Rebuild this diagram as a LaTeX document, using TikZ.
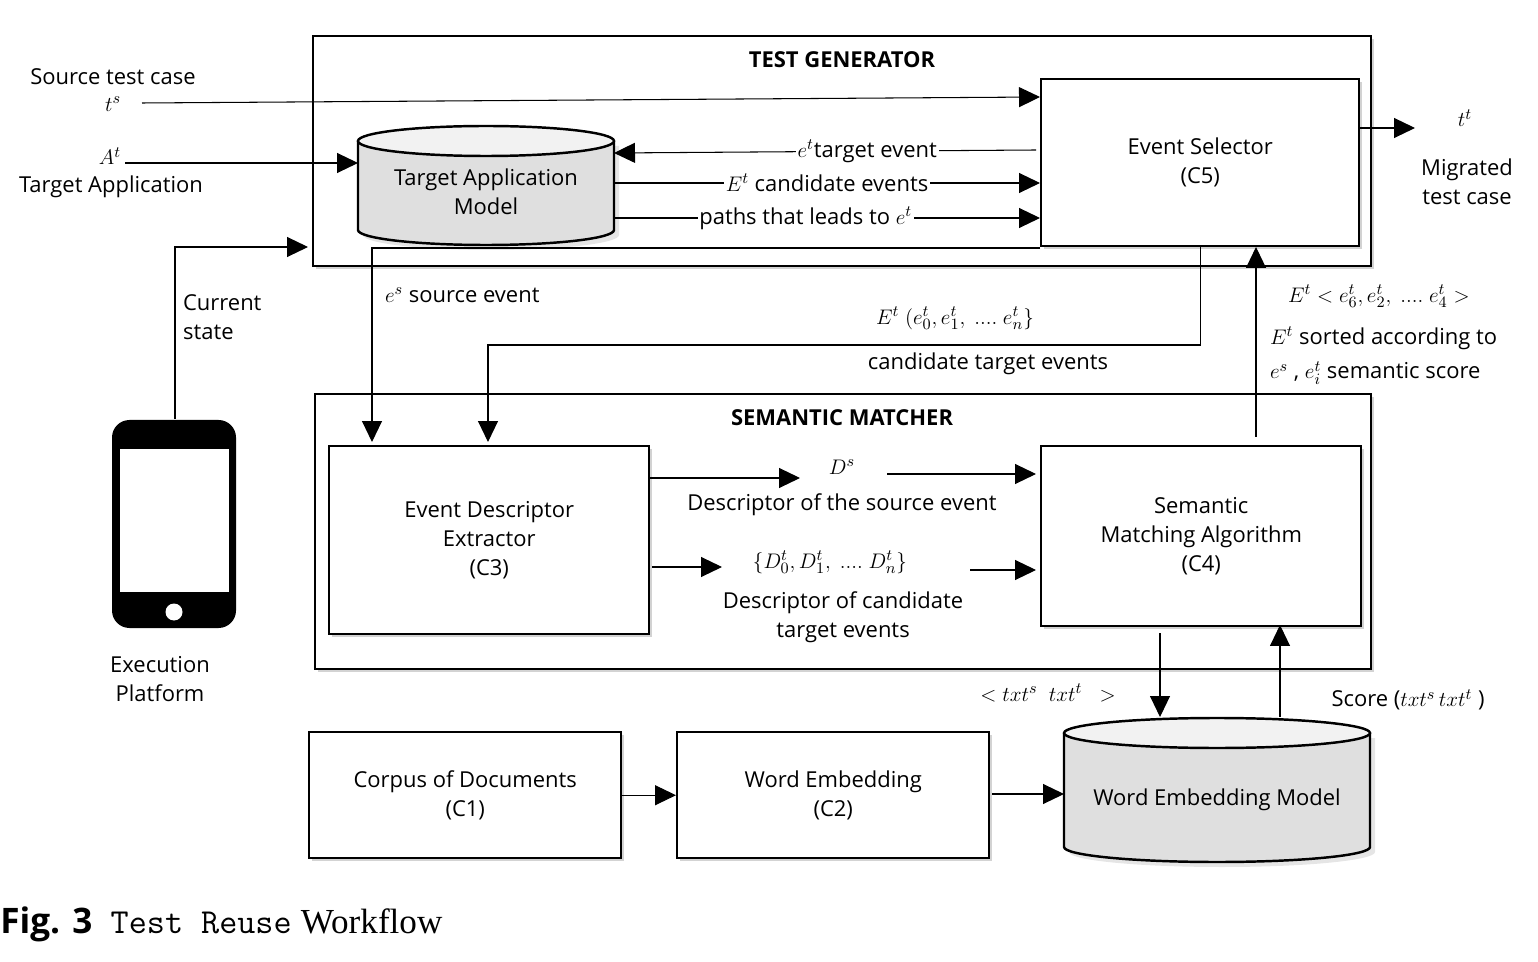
\documentclass[tikz,border=0pt]{standalone}
\usepackage{fontspec}
\setmainfont{Open Sans}
\newfontfamily\capserif{Liberation Serif}
\usetikzlibrary{arrows.meta,shadows,positioning}
\tikzset{
  arr/.style={-{Triangle[length=0.42cm,width=0.4cm]}, line width=0.6pt},
  frame/.style={draw, line width=1.4pt, fill=white, drop shadow={shadow xshift=0.06cm, shadow yshift=-0.06cm, opacity=0.35}},
  blk/.style={frame, align=center, inner sep=0pt},
  lbl/.style={align=center, inner sep=1pt},
  cyl/.style={draw, line width=1.4pt, fill=gray!25}
}
\newcommand{\cylinder}[5]{% name, x1, x2, ytop, ybot
  \pgfmathsetmacro{\cx}{(#2+#3)/2}\pgfmathsetmacro{\rx}{(#3-#2)/2}
  \fill[gray!40, opacity=0.5] (#2+5,#4+5) -- (#2+5,#5+5) arc[start angle=180,end angle=360,x radius=\rx,y radius=-15] -- (#3+5,#4+5) -- cycle;
  \draw[cyl] (#2,#4) -- (#2,#5) arc[start angle=180,end angle=360,x radius=\rx,y radius=-15] -- (#3,#4);
  \draw[line width=1.4pt, fill=gray!10] (\cx,#4) ellipse[x radius=\rx, y radius=15];
  \node[lbl] (#1) at (\cx,{(#4+#5)/2+12}) {};
}
\begin{document}
\begin{tikzpicture}[x=0.02cm,y=-0.02cm,font=\fontsize{12.5}{16.5}\selectfont]
\useasboundingbox (0,0) rectangle (1538,962);

% test generator
\node[frame, minimum width=1058*0.02cm, minimum height=230*0.02cm, anchor=north west] (tg) at (312,35) {};
\node[font=\fontsize{12.5}{16}\selectfont\bfseries] at (842,60) {TEST GENERATOR};
\node[blk, minimum width=318*0.02cm, minimum height=167*0.02cm, anchor=north west] (sel) at (1040,78) {Event Selector\\(C5)};
\cylinder{tam}{358}{614}{141}{230}
\node[lbl] at (486,192) {Target Application\\Model};

% semantic matcher
\node[frame, minimum width=1056*0.02cm, minimum height=275*0.02cm, anchor=north west] (sm) at (314,393) {};
\node[font=\fontsize{12.5}{16}\selectfont\bfseries] at (842,418) {SEMANTIC MATCHER};
\node[blk, minimum width=320*0.02cm, minimum height=188*0.02cm, anchor=north west] (ede) at (328,445) {Event Descriptor\\Extractor\\(C3)};
\node[blk, minimum width=320*0.02cm, minimum height=180*0.02cm, anchor=north west] (sma) at (1040,445) {Semantic\\Matching Algorithm\\(C4)};

% bottom row
\node[blk, minimum width=312*0.02cm, minimum height=126*0.02cm, anchor=north west] (corp) at (308,731) {Corpus of Documents\\(C1)};
\node[blk, minimum width=312*0.02cm, minimum height=126*0.02cm, anchor=north west] (we) at (676,731) {Word Embedding\\(C2)};
\cylinder{wem}{1064}{1370}{733}{847}
\node[lbl] at (1217,800) {Word Embedding Model};

% phone
\fill[rounded corners=0.35cm] (112,420) rectangle (236,628);
\fill[white] (120,449) rectangle (229,592);
\fill[white] (174,612) circle (8.5);
\node[inner sep=0pt] (ph) at (175,420) {};
\node[lbl] at (160,679) {Execution\\Platform};

% inputs
\coordinate (ts) at (142,103);
\coordinate (at) at (125,163);
\node[lbl] at (113,77) {Source test case};
\node[lbl] at (113,104) {$t^s$};
\node[lbl] at (110,156) {$A^t$};
\node[lbl] at (111,187) {Target Application};
\draw[arr] (ts) -- (1040,97);
\draw[arr] (at) -- (358,163);
\draw[arr] (ph.north) |- (308,247);
\node[lbl, align=left, anchor=west] at (181,317) {Current\\state};

% test generator inner
\draw[arr] (1036,150) -- node[lbl, fill=white, pos=0.4] {$e^t$target event} (614,153);
\draw[arr] (614,183) -- node[lbl, fill=white] {$E^t$ candidate events} (1040,183);
\draw[arr] (614,218) -- node[lbl, fill=white, pos=0.45] {paths that leads to $e^t$} (1040,218);

% output
\coordinate (tt) at (1415,128);
\draw[arr] (1358,128) -- (tt);
\node[lbl] at (1465,118) {$t^t$};
\node[lbl] at (1467,182) {Migrated\\test case};

% to semantic matcher
\draw[arr] (1040,248) -| (372,442);
\node[lbl, anchor=west] at (383,295) {$e^s$ source event};
\draw[arr] (sel.south) |- (488,345) -- (488,442);
\node[lbl] at (955,318) {$E^t\ (e_0^t, e_1^t,\ ....\ e_n^t\}$};
\node[lbl] at (988,364) {candidate target events};
\draw[arr] (1256,437) -- (1256,247);
\node[lbl, anchor=west] at (1286,296) {$E^t < e_6^t, e_2^t,\ ....\ e_4^t >$};
\node[lbl, anchor=west] at (1268,338) {$E^t$ sorted according to};
\node[lbl, anchor=west] at (1268,373) {$e^s$ , $e_i^t$ semantic score};

% semantic matcher inner
\draw[arr] (648,478) -- (800,478);
\node[lbl] at (842,467) {$D^s$};
\draw[arr] (887,474) -- (1036,474);
\node[lbl] at (842,505) {Descriptor of the source event};
\draw[arr] (652,567) -- (722,567);
\node[lbl] at (830,562) {$\{D_0^t, D_1^t,\ ....\ D_n^t\}$};
\draw[arr] (970,570) -- (1036,570);
\node[lbl] at (843,617) {Descriptor of candidate\\target events};

% embedding
\draw[arr] (1160,633) -- (1160,717);
\node[lbl] at (1048,693) {$<txt^s\ \ txt^t\ \ >$};
\draw[arr] (1280,717) -- (1280,625);
\node[lbl] at (1408,700) {Score ($txt^s\,txt^t$ )};
\draw[arr] (corp.east) -- (we.west);
\draw[arr] (992,794) -- (1064,794);

% caption
\node[anchor=west, inner sep=0pt, font=\fontsize{20}{24}\selectfont] at (0,924)
  {\textbf{Fig. 3}\ \ \texttt{Test Reuse} {\capserif Workflow}};
\end{tikzpicture}
\end{document}
